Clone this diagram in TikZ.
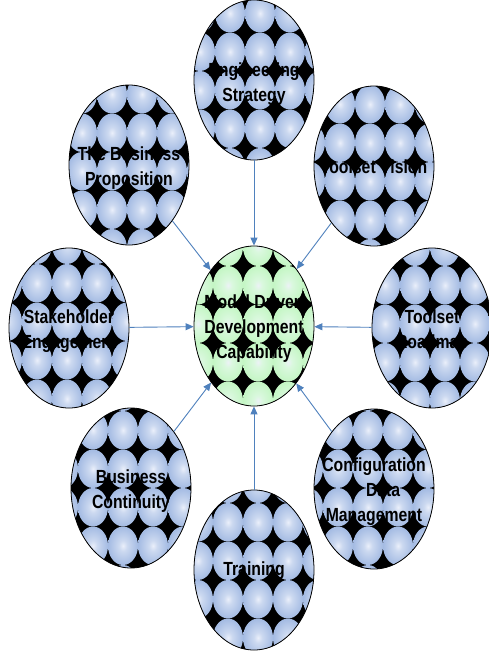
\documentclass[tikz,border=0pt]{standalone}
\usepackage{fontspec}
\setmainfont{Liberation Sans}
\usetikzlibrary{shapes.geometric,arrows.meta}
\definecolor{bIn}{RGB}{234,239,250}
\definecolor{bMid}{RGB}{204,217,240}
\definecolor{bOut}{RGB}{164,187,227}
\definecolor{gIn}{RGB}{236,242,246}
\definecolor{gMid}{RGB}{218,248,222}
\definecolor{gOut}{RGB}{196,246,196}
\definecolor{arrblue}{RGB}{79,129,189}
\pgfdeclareradialshading{bluetile}{\pgfpoint{0bp}{0bp}}{color(0bp)=(bIn); color(7bp)=(bMid); color(25bp)=(bOut); color(50bp)=(bOut)}
\pgfdeclareradialshading{greentile}{\pgfpoint{0bp}{0bp}}{color(0bp)=(gIn); color(7bp)=(gMid); color(25bp)=(gOut); color(50bp)=(gOut)}
\tikzset{
  bub/.style={ellipse, draw=black, line width=0.8pt, minimum width=120pt, minimum height=160pt, inner sep=0pt},
  lbl/.style={font=\bfseries\fontsize{19}{25}\selectfont, align=center, xscale=0.83, transform shape, inner sep=0pt, text=black},
  arr/.style={draw=arrblue, line width=0.9pt, -{Triangle[length=8pt,width=7pt]}}
}
% #1 name, #2 cx, #3 cy, #4 shading, #5 star x0, #6 star y0
\newcommand{\Bub}[6]{%
  \begin{scope}
    \clip (#2,#3) ellipse [x radius=60pt, y radius=80pt];
    \fill[black] ({#2-62},{#3-82}) rectangle ({#2+62},{#3+82});
    \foreach \i in {-4,...,3}{
      \foreach \j in {-4,...,3}{
        \shade[shading=#4] ({#5+15+30*(\i)},{#6+19.25+38.5*(\j)}) ellipse [x radius=15pt, y radius=19.25pt];
      }
    }
  \end{scope}
  \node[bub] (#1) at (#2,#3) {};
}
\begin{document}
\begin{tikzpicture}[x=1pt,y=-1pt]
  \path[fill=white, use as bounding box] (0,0) rectangle (489,651);

  \Bub{es}{254}{80}{bluetile}{245}{71}
  \Bub{tr}{254}{570}{bluetile}{243}{580}
  \Bub{md}{254}{326}{greentile}{243}{343}
  \Bub{se}{69}{328}{bluetile}{82}{341}
  \Bub{tm}{432}{328}{bluetile}{430}{343}
  \Bub{bp}{129}{165}{bluetile}{127}{152}
  \Bub{tv}{374}{166}{bluetile}{385}{162}
  \Bub{bc}{131}{488}{bluetile}{138}{488}
  \Bub{cd}{374}{489}{bluetile}{383}{488}

  \node[lbl] (tes) at (254,84) {Engineering\\Strategy};
  \node[lbl] (tmd) at (254,329) {Model Driven\\Development\\Capability};
  \node[lbl] (tse) at (69,331) {Stakeholder\\Engagement};
  \node[lbl] (ttm) at (432,331) {Toolset\\Roadmap};
  \node[lbl] (tbp) at (129,168) {The Business\\Proposition};
  \node[lbl] (ttv) at (374,167) {Toolset Vision};
  \node[lbl] (tbc) at (131,491) {Business\\Continuity};
  \node[lbl] (tcd) at (374,492) {Configuration\\\hspace*{22pt}Data\\Management};
  \node[lbl] (ttr) at (254,571) {Training};

  \draw[arr] (es) -- (md);
  \draw[arr] (tr) -- (md);
  \draw[arr] (se) -- (md);
  \draw[arr] (tm) -- (md);
  \draw[arr] (bp) -- (md);
  \draw[arr] (tv) -- (md);
  \draw[arr] (bc) -- (md);
  \draw[arr] (cd) -- (md);
\end{tikzpicture}
\end{document}
